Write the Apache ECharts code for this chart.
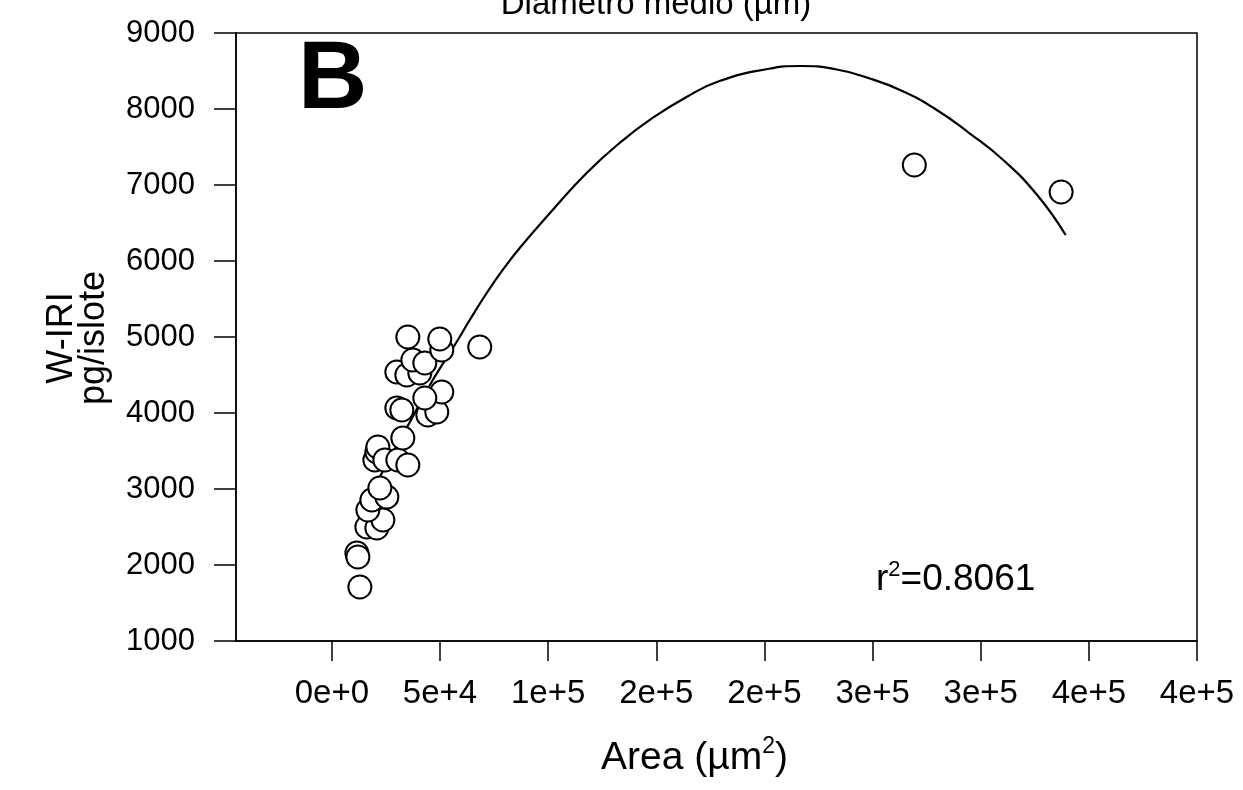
<!DOCTYPE html>
<html>
<head>
<meta charset="utf-8">
<script src="https://cdn.jsdelivr.net/npm/echarts@6/dist/echarts.min.js"></script>
<style>
html,body{margin:0;padding:0;background:#fff;}
#c{width:1243px;height:790px;}
</style>
</head>
<body>
<div id="c"></div>
<script>
// x tick values and their printed labels (original rounds 1.5e5 to "2e+5" etc.)
const xTickValues = [0, 50000, 100000, 150000, 200000, 250000, 300000, 350000, 400000];
const xTickLabels = ['0e+0', '5e+4', '1e+5', '2e+5', '2e+5', '3e+5', '3e+5', '4e+5', '4e+5'];

// Observed points: Area (µm²), W-IRI (pg/islote)
const areaValues = [12933, 11547, 12009, 16167, 20786, 23557, 16628, 18476, 25405, 22171,
  19862, 20786, 21248, 24481, 30485, 35104, 32795, 30024, 32333, 44342,
  48499, 50808, 42957, 30024, 34643, 40647, 37414, 42957, 50808, 49884,
  35104, 68361, 269288, 337187];
const wiriValues = [1711, 2158, 2105, 2500, 2487, 2592, 2724, 2855, 2895, 3013,
  3382, 3487, 3553, 3382, 3382, 3316, 3671, 4066, 4039, 3974,
  4013, 4276, 4197, 4539, 4500, 4526, 4697, 4658, 4829, 4974,
  5000, 4868, 7263, 6908];

// Fitted curve
const fitArea = [11547, 22171, 36028, 46651, 56813, 63741, 71594, 78984, 86836, 102079,
  117783, 133025, 148268, 163972, 179215, 201386, 216628, 232333, 248037, 263741,
  278984, 294688, 310393, 326097, 339261];
const fitWiri = [2510, 3158, 3880, 4434, 4895, 5224, 5579, 5882, 6171, 6671,
  7158, 7553, 7882, 8158, 8368, 8526, 8566, 8526, 8408, 8237,
  8000, 7684, 7329, 6868, 6342];

const points = areaValues.map((a, i) => [a, wiriValues[i]]);
const fit = fitArea.map((a, i) => [a, fitWiri[i]]);

const FONT = 'Liberation Sans, Arial, sans-serif';
const chart = echarts.init(document.getElementById('c'), null, {renderer: 'canvas'});
chart.setOption({
  animation: false,
  backgroundColor: '#fff',
  grid: {left: 236, right: 46, top: 33, bottom: 149, show: true, borderColor: '#000', borderWidth: 1.5, backgroundColor: 'transparent'},
  xAxis: {
    type: 'value', min: -44340, max: 400000,
    axisLine: {show: true, onZero: false, lineStyle: {color: '#000', width: 1.5}},
    axisTick: {show: true, inside: false, length: 20, customValues: xTickValues, lineStyle: {color: '#000', width: 1.5}},
    axisLabel: {show: true, customValues: xTickValues, margin: 36, color: '#000', fontFamily: FONT, fontSize: 33,
      formatter: function (v) { const i = xTickValues.indexOf(v); return i >= 0 ? xTickLabels[i] : ''; }},
    splitLine: {show: false},
    name: '{a|Area (µm}{s|2}{a|)}', nameLocation: 'middle', nameGap: 94,
    nameTextStyle: {padding: [0, 44, 0, 0], rich: {
      a: {fontFamily: FONT, fontSize: 39, color: '#000', lineHeight: 46},
      s: {fontFamily: FONT, fontSize: 23, color: '#000', verticalAlign: 'top', lineHeight: 46, padding: [0, 0, 17, 0]}
    }}
  },
  yAxis: {
    type: 'value', min: 1000, max: 9000, interval: 1000,
    axisLine: {show: true, onZero: false, lineStyle: {color: '#000', width: 1.5}},
    axisTick: {show: true, inside: false, length: 22, lineStyle: {color: '#000', width: 1.5}},
    axisLabel: {margin: 41, color: '#000', fontFamily: FONT, fontSize: 31, formatter: function (v) { return String(v); }},
    splitLine: {show: false}
  },
  series: [
    {type: 'line', data: fit, smooth: 0.5, showSymbol: false, z: 2,
      lineStyle: {color: '#000', width: 2.2}},
    {type: 'scatter', data: points, symbol: 'circle', symbolSize: 23, z: 3,
      itemStyle: {color: '#fff', borderColor: '#000', borderWidth: 2, opacity: 1}}
  ],
  graphic: [
    {type: 'text', x: 656, y: -12, style: {text: 'Diametro medio (µm)', font: '33px ' + FONT, fill: '#000', textAlign: 'center', textVerticalAlign: 'top'}},
    {type: 'text', x: 298, y: 82, style: {text: 'B', font: 'bold 96px ' + FONT, fill: '#000', textAlign: 'left', textVerticalAlign: 'middle'}},
    {type: 'text', x: 78, y: 338, rotation: Math.PI / 2, style: {text: 'W-IRI\npg/islote', font: '36px ' + FONT, lineHeight: 32, fill: '#000', textAlign: 'center', textVerticalAlign: 'middle'}},
    {type: 'text', x: 876, y: 580, style: {
      text: '{a|r}{s|2}{a|=0.8061}', fill: '#000', textAlign: 'left', textVerticalAlign: 'middle',
      rich: {
        a: {fontFamily: FONT, fontSize: 37, fill: '#000', lineHeight: 42},
        s: {fontFamily: FONT, fontSize: 22, fill: '#000', verticalAlign: 'top', lineHeight: 42, padding: [0, 0, 15, 0]}
      }}}
  ]
});
</script>
</body>
</html>
